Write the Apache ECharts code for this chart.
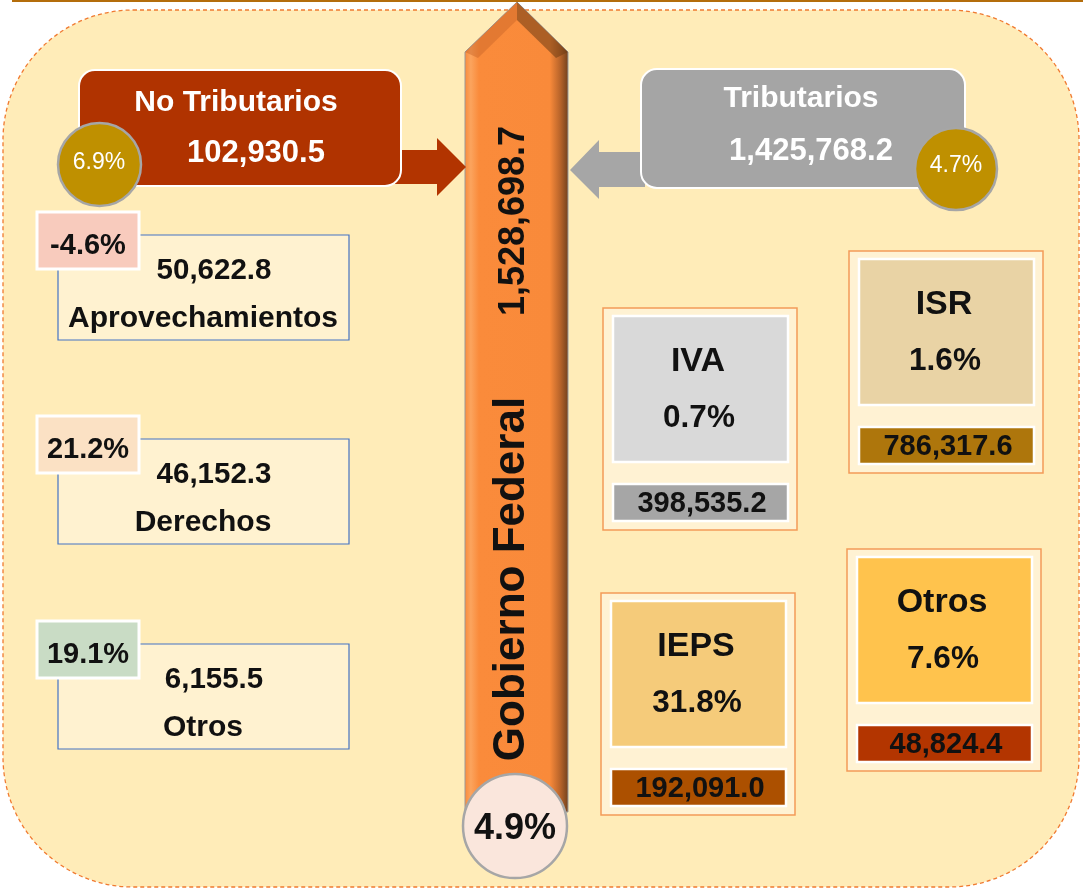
<!DOCTYPE html>
<html>
<head>
<meta charset="utf-8">
<script src="https://cdn.jsdelivr.net/npm/echarts@6/dist/echarts.min.js"></script>
<style>
  html, body { margin: 0; padding: 0; background: #fff; }
  #main { width: 1083px; height: 888px; }
</style>
</head>
<body>
<div id="main"></div>
<script>
// datos (millones de pesos) y variaciones reales
const totalName = 'Gobierno Federal';
const totalValue = 1528698.7;
const totalGrowth = 4.9;

const groupNames = ['No Tributarios', 'Tributarios'];
const groupValues = [102930.5, 1425768.2];
const groupGrowth = [6.9, 4.7];

const noTribNames = ['Aprovechamientos', 'Derechos', 'Otros'];
const noTribValues = [50622.8, 46152.3, 6155.5];
const noTribGrowth = [-4.6, 21.2, 19.1];

const tribNames = ['IVA', 'ISR', 'IEPS', 'Otros'];
const tribValues = [398535.2, 786317.6, 192091.0, 48824.4];
const tribGrowth = [0.7, 1.6, 31.8, 7.6];

// layout
const FONT = '"Liberation Sans", Arial, sans-serif';
const noTribBoxY = [235, 439, 644];
const noTribTagColors = ['#f8cbbd', '#fbe1c4', '#c9dcc5'];
const cardX = [603, 849, 601, 847];
const cardY = [308, 251, 593, 549];
const cardInner = ['#d9d9d9', '#e9d3a5', '#f5cb7a', '#ffc34d'];
const cardBar = ['#a6a6a6', '#ae760c', '#ac5000', '#b33500'];

function fmt(v) {
    return v.toLocaleString('en-US', { minimumFractionDigits: 1, maximumFractionDigits: 1 });
}
function pct(v) {
    return v.toFixed(1) + '%';
}
function txt(x, y, text, size, opts) {
    opts = opts || {};
    return {
        type: 'text', x: x, y: y, rotation: opts.rotation || 0, z: 20,
        style: {
            text: text, fontSize: size, fontFamily: FONT,
            fontWeight: opts.weight || 'bold', fill: opts.fill || '#111',
            align: 'center', verticalAlign: 'middle'
        }
    };
}

const chart = echarts.init(document.getElementById('main'));
const els = [];

// fondo
els.push({ type: 'rect', shape: { x: 12, y: 0, width: 1071, height: 2 }, style: { fill: '#b46d0c' } });
els.push({
    type: 'rect', shape: { x: 3, y: 10, width: 1076, height: 877, r: 130 },
    style: { fill: '#ffecb8', stroke: '#f07a30', lineWidth: 1.3, lineDash: [4, 3] }
});

// flecha vertical central
els.push({
    type: 'polygon', z: 5,
    shape: { points: [[465, 52], [517, 2], [568, 52], [568, 812], [465, 812]] },
    style: {
        fill: new echarts.graphic.LinearGradient(0, 0, 1, 0, [
            { offset: 0, color: '#f98a3a' },
            { offset: 0.06, color: '#fba45e' },
            { offset: 0.14, color: '#fa8b3b' },
            { offset: 0.82, color: '#f98a3a' },
            { offset: 0.92, color: '#b8642a' },
            { offset: 1, color: '#70401c' }
        ]),
        stroke: '#9a9a9a', lineWidth: 1
    }
});
els.push({
    type: 'polygon', z: 6,
    shape: { points: [[517, 2], [568, 52], [556, 58], [517, 20]] },
    style: { fill: 'rgba(110,60,20,0.55)' }
});
els.push({
    type: 'polygon', z: 6,
    shape: { points: [[517, 2], [465, 52], [478, 58], [517, 20]] },
    style: { fill: 'rgba(200,100,40,0.45)' }
});
els.push(txt(514, 221, fmt(totalValue), 36, { rotation: Math.PI / 2 }));
els.push(txt(512, 579, totalName, 44, { rotation: Math.PI / 2 }));
els.push({
    type: 'circle', z: 10, shape: { cx: 515, cy: 826, r: 52 },
    style: { fill: '#fae6dc', stroke: '#a6a6a6', lineWidth: 2.5 }
});
els.push(txt(515, 829, pct(totalGrowth), 36));

// No Tributarios
els.push({
    type: 'polygon', z: 5,
    shape: { points: [[395, 150], [437, 150], [437, 138], [466, 167], [437, 196], [437, 184], [395, 184]] },
    style: { fill: '#b23400' }
});
els.push({
    type: 'rect', z: 6, shape: { x: 79, y: 70, width: 322, height: 116, r: 16 },
    style: { fill: '#b03300', stroke: '#fff', lineWidth: 2 }
});
els.push(txt(236, 103, groupNames[0], 30, { fill: '#fff' }));
els.push(txt(256, 153, fmt(groupValues[0]), 31, { fill: '#fff' }));
els.push({
    type: 'circle', z: 10, shape: { cx: 99.5, cy: 164.5, r: 41.5 },
    style: { fill: '#bf9000', stroke: '#a6a6a6', lineWidth: 2.5 }
});
els.push(txt(99, 163, pct(groupGrowth[0]), 23, { fill: '#fff', weight: 'normal' }));

// Tributarios
els.push({
    type: 'polygon', z: 5,
    shape: { points: [[570, 170], [599, 140], [599, 152], [645, 152], [645, 187], [599, 187], [599, 199]] },
    style: { fill: '#a6a6a6' }
});
els.push({
    type: 'rect', z: 6, shape: { x: 641, y: 69, width: 324, height: 119, r: 16 },
    style: { fill: '#a5a5a5', stroke: '#fff', lineWidth: 2 }
});
els.push(txt(801, 99, groupNames[1], 30, { fill: '#fff' }));
els.push(txt(811, 151, fmt(groupValues[1]), 31, { fill: '#fff' }));
els.push({
    type: 'circle', z: 10, shape: { cx: 956, cy: 169, r: 41 },
    style: { fill: '#bf9000', stroke: '#a6a6a6', lineWidth: 2.5 }
});
els.push(txt(956, 166, pct(groupGrowth[1]), 23, { fill: '#fff', weight: 'normal' }));

// desglose no tributarios
noTribNames.forEach(function (name, i) {
    const y = noTribBoxY[i];
    els.push({
        type: 'rect', z: 5, shape: { x: 58, y: y, width: 291, height: 105 },
        style: { fill: '#fff2d0', stroke: '#4472c4', lineWidth: 1.2 }
    });
    els.push({
        type: 'rect', z: 6, shape: { x: 37, y: y - 23, width: 102, height: 57 },
        style: { fill: noTribTagColors[i], stroke: '#fff', lineWidth: 3 }
    });
    els.push(txt(88, y + 11, pct(noTribGrowth[i]), 29));
    els.push(txt(214, y + 36, fmt(noTribValues[i]), 29.5));
    els.push(txt(203, y + 84, name, 30));
});

// desglose tributarios
tribNames.forEach(function (name, i) {
    const x = cardX[i], y = cardY[i];
    els.push({
        type: 'rect', z: 5, shape: { x: x, y: y, width: 194, height: 222 },
        style: { fill: '#fff2d3', stroke: '#f49a58', lineWidth: 1.5 }
    });
    els.push({
        type: 'rect', z: 6, shape: { x: x + 10, y: y + 8, width: 175, height: 146 },
        style: { fill: cardInner[i], stroke: '#fff', lineWidth: 2.5 }
    });
    els.push({
        type: 'rect', z: 6, shape: { x: x + 10, y: y + 176, width: 175, height: 37 },
        style: { fill: cardBar[i], stroke: '#fff', lineWidth: 2.5 }
    });
    els.push(txt(x + 95, y + 54, name, 34));
    els.push(txt(x + 96, y + 110, pct(tribGrowth[i]), 31.5));
    els.push(txt(x + 99, y + 196, fmt(tribValues[i]), 29));
});

chart.setOption({
    backgroundColor: '#ffffff',
    animation: false,
    graphic: { elements: els }
});
</script>
</body>
</html>
